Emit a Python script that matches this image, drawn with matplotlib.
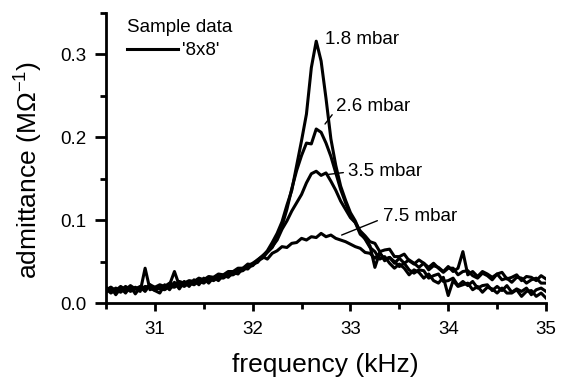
import numpy as np
import matplotlib
matplotlib.use("Agg")
import matplotlib.pyplot as plt
from matplotlib.ticker import MultipleLocator, FormatStrFormatter

plt.rcParams['font.family'] = ['Liberation Sans', 'DejaVu Sans']
plt.rcParams['mathtext.fontset'] = 'custom'
plt.rcParams['mathtext.rm'] = 'Liberation Sans'
plt.rcParams['mathtext.default'] = 'regular'

# frequency grid (kHz), 30.50 ... 35.00 in 0.05 steps
freq = np.round(np.arange(30.5, 35.0001, 0.05), 2)

y_18 = [0.013, 0.019, 0.010, 0.018, 0.012, 0.020, 0.011, 0.019, 0.014, 0.022,
        0.015, 0.012, 0.022, 0.016, 0.025, 0.017, 0.026, 0.020, 0.028, 0.022,
        0.030, 0.024, 0.031, 0.027, 0.034, 0.031, 0.037, 0.035, 0.042, 0.041,
        0.047, 0.049, 0.056, 0.063, 0.073, 0.084, 0.098, 0.118, 0.136, 0.166,
        0.196, 0.228, 0.284, 0.316, 0.292, 0.247, 0.198, 0.166, 0.141, 0.124,
        0.109, 0.099, 0.085, 0.077, 0.067,
        0.062, 0.053, 0.056, 0.048, 0.042, 0.047, 0.042, 0.034, 0.040, 0.037,
        0.030, 0.035, 0.027, 0.024, 0.031, 0.009, 0.027, 0.020, 0.022, 0.024,
        0.016, 0.020, 0.013, 0.019, 0.017, 0.012, 0.018, 0.012, 0.012, 0.016,
        0.008, 0.014, 0.015, 0.008, 0.012, 0.006]

y_26 = [0.017, 0.012, 0.016, 0.013, 0.018, 0.014, 0.017, 0.014, 0.042, 0.016,
        0.019, 0.017, 0.016, 0.020, 0.019, 0.023, 0.020, 0.024, 0.022, 0.026,
        0.024, 0.029, 0.027, 0.031, 0.030, 0.034, 0.034, 0.038, 0.039, 0.044,
        0.045, 0.051, 0.054, 0.061, 0.067, 0.079, 0.093, 0.113, 0.138, 0.160,
        0.178, 0.193, 0.192, 0.210, 0.206, 0.193, 0.177, 0.157, 0.137, 0.121,
        0.106, 0.097, 0.083, 0.078, 0.069,
        0.043, 0.061, 0.051, 0.055, 0.050, 0.044, 0.048, 0.040, 0.036, 0.040,
        0.039, 0.030, 0.033, 0.035, 0.026, 0.027, 0.030, 0.021, 0.026, 0.021,
        0.026, 0.018, 0.021, 0.022, 0.015, 0.020, 0.015, 0.021, 0.013, 0.017,
        0.014, 0.018, 0.010, 0.016, 0.018, 0.014]

y_35 = [0.019, 0.014, 0.018, 0.015, 0.020, 0.016, 0.019, 0.016, 0.020, 0.018,
        0.015, 0.019, 0.018, 0.022, 0.038, 0.021, 0.023, 0.026, 0.024, 0.028,
        0.026, 0.030, 0.029, 0.032, 0.032, 0.035, 0.036, 0.039, 0.041, 0.045,
        0.048, 0.052, 0.057, 0.062, 0.068, 0.076, 0.089, 0.099, 0.111, 0.121,
        0.131, 0.145, 0.156, 0.159, 0.154, 0.157, 0.147, 0.136, 0.123, 0.113,
        0.103, 0.097, 0.087, 0.081, 0.074,
        0.072, 0.062, 0.064, 0.065, 0.056, 0.056, 0.059, 0.051, 0.047, 0.052,
        0.048, 0.043, 0.048, 0.042, 0.037, 0.042, 0.042, 0.034, 0.038, 0.039,
        0.033, 0.030, 0.036, 0.033, 0.028, 0.035, 0.028, 0.030, 0.025, 0.031,
        0.030, 0.024, 0.028, 0.030, 0.024, 0.024]

y_75 = [0.016, 0.019, 0.015, 0.020, 0.016, 0.021, 0.017, 0.020, 0.018, 0.022,
        0.019, 0.022, 0.020, 0.024, 0.022, 0.026, 0.024, 0.027, 0.026, 0.030,
        0.028, 0.032, 0.031, 0.035, 0.034, 0.038, 0.038, 0.042, 0.042, 0.047,
        0.046, 0.052, 0.056, 0.053, 0.060, 0.063, 0.068, 0.067, 0.072, 0.073,
        0.078, 0.076, 0.080, 0.079, 0.084, 0.080, 0.082, 0.078, 0.076, 0.074,
        0.071, 0.068, 0.066, 0.061, 0.060,
        0.054, 0.060, 0.053, 0.055, 0.048, 0.054, 0.048, 0.052, 0.048, 0.043,
        0.048, 0.040, 0.045, 0.043, 0.038, 0.044, 0.038, 0.042, 0.062, 0.034,
        0.038, 0.032, 0.038, 0.035, 0.031, 0.035, 0.037, 0.029, 0.031, 0.034,
        0.027, 0.032, 0.031, 0.027, 0.033, 0.029]

series = [y_18, y_26, y_35, y_75]
labels = ["1.8 mbar", "2.6 mbar", "3.5 mbar", "7.5 mbar"]

fig = plt.figure(figsize=(5.68, 3.83), dpi=100)
ax = fig.add_axes([106/568, 1-303/383, 440/568, 290/383])

lines = []
for ys in series:
    ln, = ax.plot(freq, ys, color='black', lw=2.2, solid_joinstyle='round')
    lines.append(ln)

ax.set_xlim(30.5, 35.0)
ax.set_ylim(0.0, 0.35)
ax.spines['top'].set_visible(False)
ax.spines['right'].set_visible(False)
for s in ('left', 'bottom'):
    ax.spines[s].set_linewidth(2.0)

ax.xaxis.set_major_locator(MultipleLocator(1))
ax.xaxis.set_minor_locator(MultipleLocator(0.5))
ax.yaxis.set_major_locator(MultipleLocator(0.1))
ax.yaxis.set_minor_locator(MultipleLocator(0.05))
ax.yaxis.set_major_formatter(FormatStrFormatter('%.1f'))
ax.xaxis.set_major_formatter(FormatStrFormatter('%d'))

ax.tick_params(axis='y', which='major', direction='out', length=8, width=2, labelsize=13.5, pad=6)
ax.tick_params(axis='y', which='minor', direction='out', length=4.5, width=2)
ax.tick_params(axis='x', which='major', direction='out', length=6, width=2, labelsize=13.5, pad=7)
ax.tick_params(axis='x', which='minor', direction='out', length=4, width=2)

ax.set_xlabel('frequency (kHz)', fontsize=19)
ax.set_ylabel('admittance (M\u03a9$^{-1}$)', fontsize=19)
ax.xaxis.set_label_coords(0.498, -0.172)
ax.yaxis.set_label_coords(-0.139, 0.46)

# legend
leg = ax.legend([lines[0]], ["'8x8'"], title='Sample data', loc='upper left',
                bbox_to_anchor=(0.048, 0.98), frameon=False, fontsize=13.5,
                title_fontsize=13.5, handlelength=2.7, handletextpad=0.25,
                borderpad=0, borderaxespad=0, alignment='left', labelspacing=0.35)

# curve annotations
fs = 13.5
ax.text(32.74, 0.318, labels[0], fontsize=fs, ha='left', va='center')
ax.annotate(labels[1], xy=(32.74, 0.216), xytext=(32.85, 0.237), fontsize=fs,
            ha='left', va='center',
            arrowprops=dict(arrowstyle='-', lw=1, color='black', shrinkA=1, shrinkB=0,
                            relpos=(0, 0.3)))
ax.annotate(labels[2], xy=(32.76, 0.155), xytext=(32.97, 0.159), fontsize=fs,
            ha='left', va='center',
            arrowprops=dict(arrowstyle='-', lw=1, color='black', shrinkA=1, shrinkB=0,
                            relpos=(0, 0.45)))
ax.annotate(labels[3], xy=(32.91, 0.082), xytext=(33.33, 0.104), fontsize=fs,
            ha='left', va='center',
            arrowprops=dict(arrowstyle='-', lw=1, color='black', shrinkA=2, shrinkB=0,
                            relpos=(0, 0.4)))

fig.savefig('out.png', dpi=100)
